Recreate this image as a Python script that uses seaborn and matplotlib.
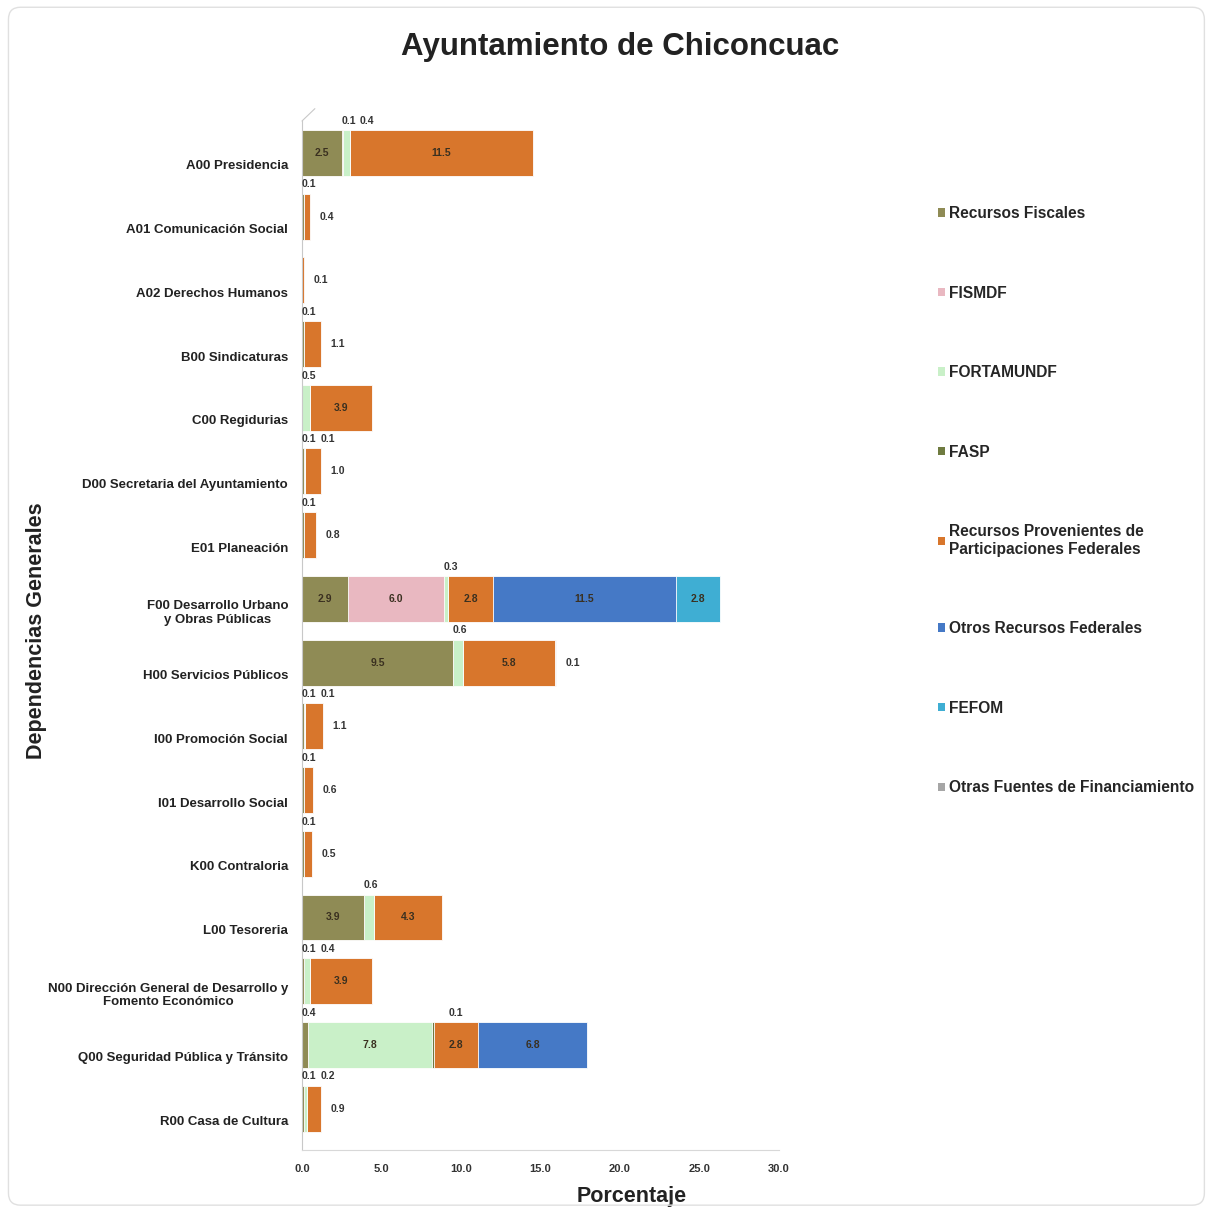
import matplotlib
matplotlib.use("Agg")
import matplotlib.pyplot as plt
import matplotlib.transforms as mtransforms
from matplotlib.patches import Patch, FancyBboxPatch
import numpy as np
import seaborn as sns

dependencias = [
    "A00 Presidencia",
    "A01 Comunicación Social",
    "A02 Derechos Humanos",
    "B00 Sindicaturas",
    "C00 Regidurias",
    "D00 Secretaria del Ayuntamiento",
    "E01 Planeación",
    "F00 Desarrollo Urbano\ny Obras Públicas",
    "H00 Servicios Públicos",
    "I00 Promoción Social",
    "I01 Desarrollo Social",
    "K00 Contraloria",
    "L00 Tesoreria",
    "N00 Dirección General de Desarrollo y\nFomento Económico",
    "Q00 Seguridad Pública y Tránsito",
    "R00 Casa de Cultura",
]

fuentes = [
    "Recursos Fiscales",
    "FISMDF",
    "FORTAMUNDF",
    "FASP",
    "Recursos Provenientes de\nParticipaciones Federales",
    "Otros Recursos Federales",
    "FEFOM",
    "Otras Fuentes de Financiamiento",
]

# porcentaje por dependencia, una lista por fuente de financiamiento
recursos_fiscales = [2.5, 0.1, 0, 0.1, 0, 0.1, 0.1, 2.9, 9.5, 0.1, 0.1, 0.1, 3.9, 0.1, 0.4, 0.1]
fismdf = [0.1, 0, 0, 0, 0, 0, 0, 6.0, 0, 0, 0, 0, 0, 0, 0, 0]
fortamundf = [0.4, 0, 0, 0, 0.5, 0.1, 0, 0.3, 0.6, 0.1, 0, 0, 0.6, 0.4, 7.8, 0.2]
fasp = [0, 0, 0, 0, 0, 0, 0, 0, 0, 0, 0, 0, 0, 0, 0.1, 0]
participaciones = [11.5, 0.4, 0.1, 1.1, 3.9, 1.0, 0.8, 2.8, 5.8, 1.1, 0.6, 0.5, 4.3, 3.9, 2.8, 0.9]
otros_federales = [0, 0, 0, 0, 0, 0, 0, 11.5, 0, 0, 0, 0, 0, 0, 6.8, 0]
fefom = [0, 0, 0, 0, 0, 0, 0, 2.8, 0, 0, 0, 0, 0, 0, 0, 0]
otras_fuentes = [0, 0, 0, 0, 0, 0, 0, 0, 0.1, 0, 0, 0, 0, 0, 0, 0]

colores = ["#8F8B55", "#E9B8C1", "#C9F0C8", "#6F7B40",
           "#D8762C", "#4579C6", "#3FAED3", "#A6A6A6"]

sns.set_style("white")
plt.rcParams["font.family"] = ["Liberation Sans", "DejaVu Sans"]

series = [recursos_fiscales, fismdf, fortamundf, fasp,
          participaciones, otros_federales, fefom, otras_fuentes]
valores = np.array(series, dtype=float)
acumulado = valores.cumsum(axis=0)

fig = plt.figure(figsize=(12.08, 12.10), dpi=100)
ax = fig.add_axes([302 / 1208, 1 - 1150 / 1210, 477 / 1208, 1029 / 1210])

# barras apiladas: se dibuja el acumulado de atrás hacia adelante
for i in reversed(range(len(series))):
    sns.barplot(x=acumulado[i], y=dependencias, orient="h", color=colores[i],
                saturation=1, width=0.72, edgecolor="white", linewidth=0.6, ax=ax)

ax.set_xlim(0, 30)
ax.set_ylim(15.65, -0.5)
ax.set_xticks(np.arange(0, 31, 5))
ax.set_xticklabels([f"{t:.1f}" for t in np.arange(0, 31, 5)],
                   fontsize=8, fontweight="bold", color="#333333")
ax.set_yticks(range(len(dependencias)))
ax.set_yticklabels(dependencias, fontsize=9.5, fontweight="bold",
                   color="#222222", multialignment="center")
ax.tick_params(axis="y", length=0, pad=10)
ax.tick_params(axis="x", length=0, pad=10)
# las etiquetas quedan un poco por debajo de las barras, como en el original
bajar = mtransforms.ScaledTranslation(0, -0.12, fig.dpi_scale_trans)
for lbl in ax.get_yticklabels():
    lbl.set_transform(lbl.get_transform() + bajar)
for lado in ["top", "right"]:
    ax.spines[lado].set_visible(False)
ax.spines["left"].set_color("#C8C8C8")
ax.spines["bottom"].set_color("#D8D8D8")
# borde superior de la pared 3D
ax.plot([0, 0.027], [1.0, 1.012], transform=ax.transAxes, color="#C8C8C8",
        linewidth=0.8, clip_on=False)

ax.set_xlabel("Porcentaje", fontsize=15.5, fontweight="bold", color="#222222")
ax.xaxis.set_label_coords(0.692, -0.035)
ax.set_ylabel("Dependencias Generales", fontsize=15.5, fontweight="bold", color="#222222")
ax.yaxis.set_label_coords(-0.535, 0.505)

# etiquetas de valores
for fila in range(len(dependencias)):
    no_cero = [i for i in range(len(series)) if valores[i, fila] > 0]
    ultimo = no_cero[-1]
    arriba = 0
    for i in no_cero:
        v = valores[i, fila]
        inicio = acumulado[i, fila] - v
        if v >= 2:
            ax.text(inicio + v / 2, fila, f"{v:.1f}", ha="center", va="center",
                    fontsize=7.5, fontweight="bold", color="#3A3020")
        elif i == ultimo:
            ax.annotate(f"{v:.1f}", xy=(acumulado[i, fila], fila), xytext=(7, 0),
                        textcoords="offset points", ha="left", va="center",
                        fontsize=7.5, fontweight="bold", color="#333333")
        else:
            ax.annotate(f"{v:.1f}", xy=(inicio, fila - 0.36), xytext=(arriba * 12, 3),
                        textcoords="offset points", ha="left", va="bottom",
                        fontsize=7.5, fontweight="bold", color="#333333")
            arriba += 1

fig.text(620 / 1208, 1 - 47 / 1210, "Ayuntamiento de Chiconcuac", ha="center",
         va="center", fontsize=22.5, fontweight="bold", color="#222222")

handles = [Patch(facecolor=c, edgecolor="none") for c in colores]
fig.legend(handles, fuentes, loc="upper left", bbox_to_anchor=(924 / 1208, 1 - 192 / 1210),
           frameon=False, handlelength=0.45, handleheight=0.45, handletextpad=0.25,
           labelspacing=4.15, prop={"size": 11.2, "weight": "bold"})

borde = FancyBboxPatch((0.007, 0.004), 0.99, 0.99, boxstyle="round,pad=0,rounding_size=0.01",
                       transform=fig.transFigure, fill=False, edgecolor="#E0E0E0", linewidth=1)
fig.patches.append(borde)

fig.savefig("out.png", dpi=100)
